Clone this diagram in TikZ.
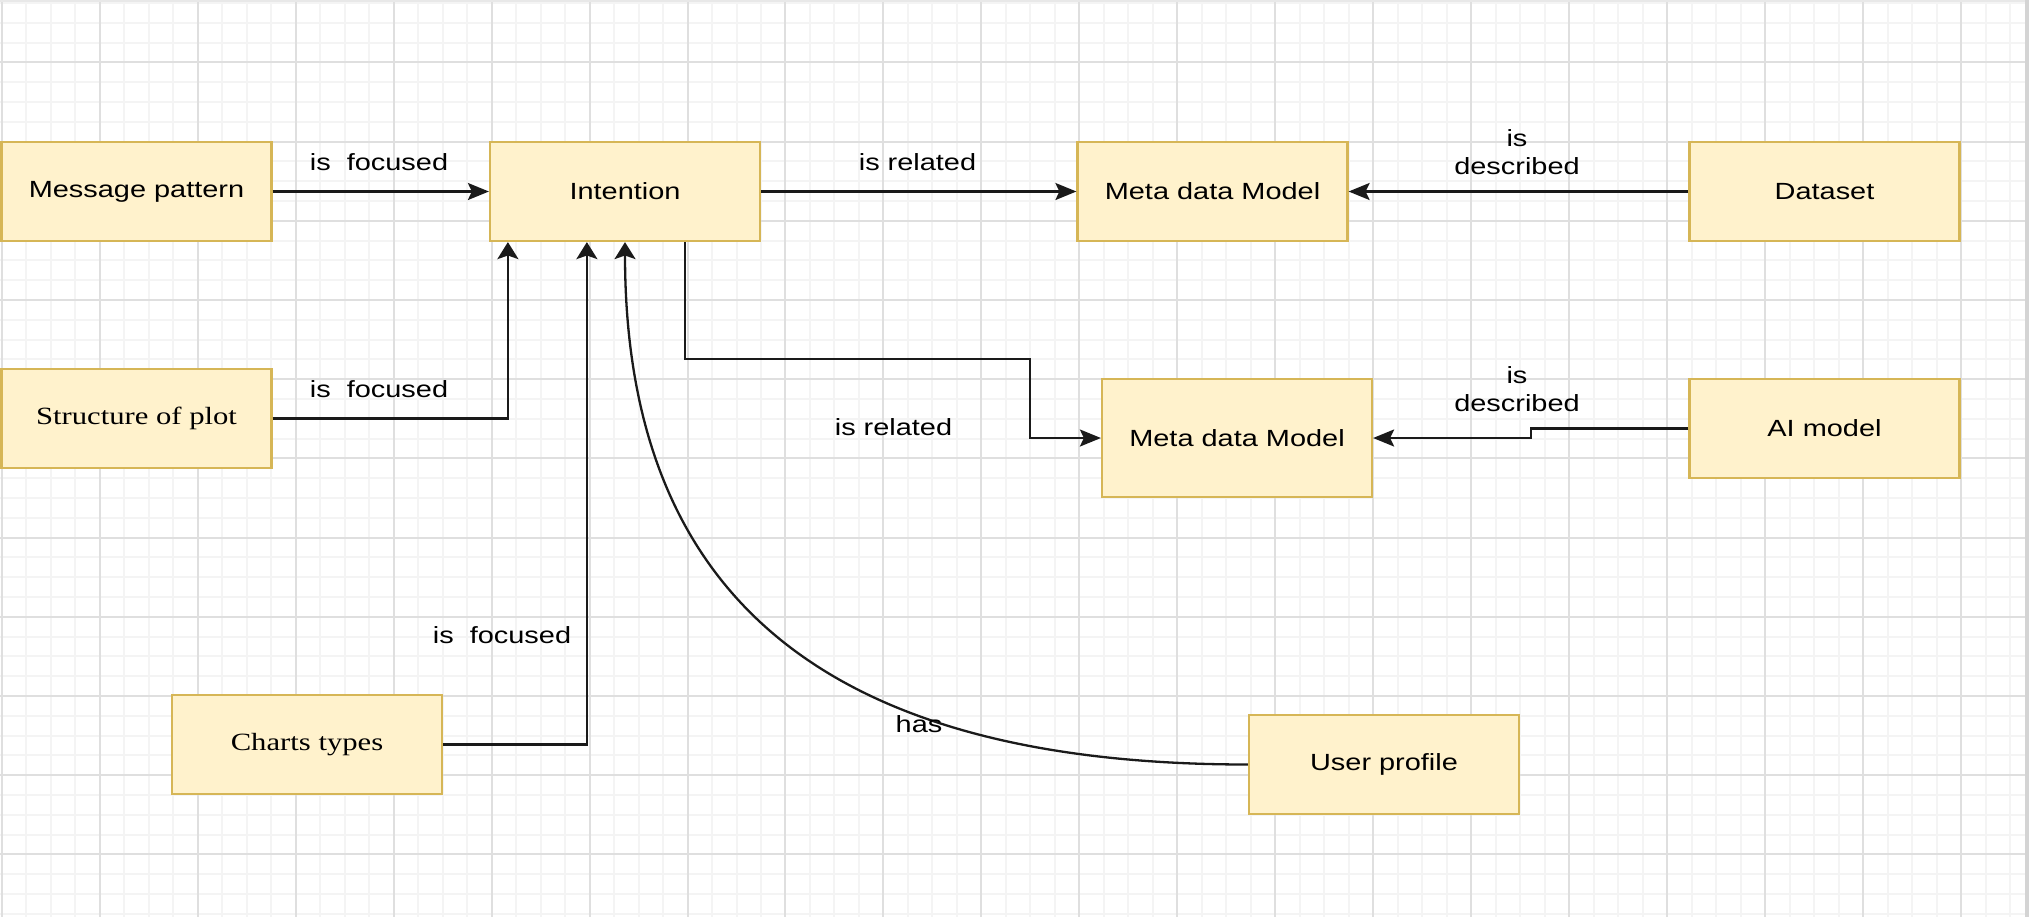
\documentclass[tikz,border=0pt]{standalone}
\usepackage{fontspec}
\setmainfont{Liberation Sans}[FakeStretch=1.236]
\newfontfamily\serifface{Liberation Serif}[FakeStretch=1.236]
\usetikzlibrary{arrows.meta}
\definecolor{boxfill}{HTML}{FFF2CC}
\definecolor{boxline}{HTML}{D6B656}
\definecolor{gridminor}{HTML}{F4F4F4}
\definecolor{gridmajor}{HTML}{DFDFDF}
\definecolor{wirecol}{HTML}{1A1A1A}

\begin{document}
\begin{tikzpicture}[x=0.5pt, y=-0.5pt,
  box/.style={draw=boxline, fill=boxfill, line width=1.1pt,
    minimum width=135pt, minimum height=49.5pt, inner sep=0pt,
    font=\fontsize{11.7}{14}\selectfont},
  tall/.style={minimum height=59pt},
  serifbox/.style={font=\serifface\fontsize{12.4}{14}\selectfont},
  lbl/.style={font=\fontsize{11.7}{14}\selectfont, align=center, inner sep=0pt},
  link/.style={draw=wirecol, line width=1.15pt},
  harrow/.style={-{Stealth[length=10.5pt,width=8.5pt,inset=2pt]}},
  varrow/.style={-{Stealth[length=8.5pt,width=10.5pt,inset=1.8pt]}},
  minorline/.style={draw=gridminor, line width=1pt},
  majorline/.style={draw=gridmajor, line width=1pt},
]
\useasboundingbox (0,0) rectangle (2029,917);
\fill[white] (0,0) rectangle (2029,917);

% background grid
\foreach \i in {0,...,82} \draw[minorline] ({1.8+24.49*\i},0) -- ++(0,917);
\foreach \j in {0,...,46} \draw[minorline] (0,{2.9+19.8*\j}) -- ++(2025,0);
\foreach \i in {0,...,20} \draw[majorline] ({1.8+97.96*\i},0) -- ++(0,917);
\foreach \j in {0,...,10} \draw[majorline] (0,{62.3+79.2*\j}) -- ++(2025,0);
\draw[black!9, line width=1pt] (0,1) -- (2025,1);
\fill[black!17] (2025,0) rectangle (2029,917);

% entities
\node[box] (msg) at (136.5,191.5) {Message pattern};
\node[box] (intent) at (625,191.5) {Intention};
\node[box] (meta1) at (1212.5,191.5) {Meta data Model};
\node[box] (data) at (1824.5,191.5) {Dataset};
\node[box, serifbox] (plot) at (136.5,418.5) {Structure of plot};
\node[box, tall] (meta2) at (1237,438) {Meta data Model};
\node[box] (ai) at (1824.5,428.5) {AI model};
\node[box, serifbox] (charts) at (307,744.5) {Charts types};
\node[box] (user) at (1384,764.5) {User profile};

% bend points
\coordinate (bend1) at (1030,359);
\coordinate (bend2) at (1531,428.5);

% relations
\draw[link, harrow] (msg) -- (intent);
\draw[link, varrow] (plot.east) -| ([xshift=9.5pt]intent.south west);
\draw[link, varrow] (charts.east) -| ([xshift=49pt]intent.south west);
\draw[link, varrow] (user.west) .. controls (830,764.5) and (625,600) .. (intent.south);
\draw[link, harrow] ([xshift=98pt]intent.south west) |- (bend1) |- (meta2.west);
\draw[link, harrow] (intent) -- (meta1);
\draw[link, harrow] (data) -- (meta1);
\draw[link, harrow] (ai.west) -- (bend2) |- (meta2.east);

% relation labels
\node[lbl] (l1) at (379,162) {is\ \ focused};
\node[lbl] (l2) at (379,389) {is\ \ focused};
\node[lbl] (l3) at (502,635) {is\ \ focused};
\node[lbl] (l4) at (917.5,162) {is related};
\node[lbl] (l5) at (893.5,427) {is related};
\node[lbl] (l6) at (1517,152) {is\\described};
\node[lbl] (l7) at (1517,389.5) {is\\described};
\node[lbl] (l8) at (919,724) {has};
\end{tikzpicture}
\end{document}
